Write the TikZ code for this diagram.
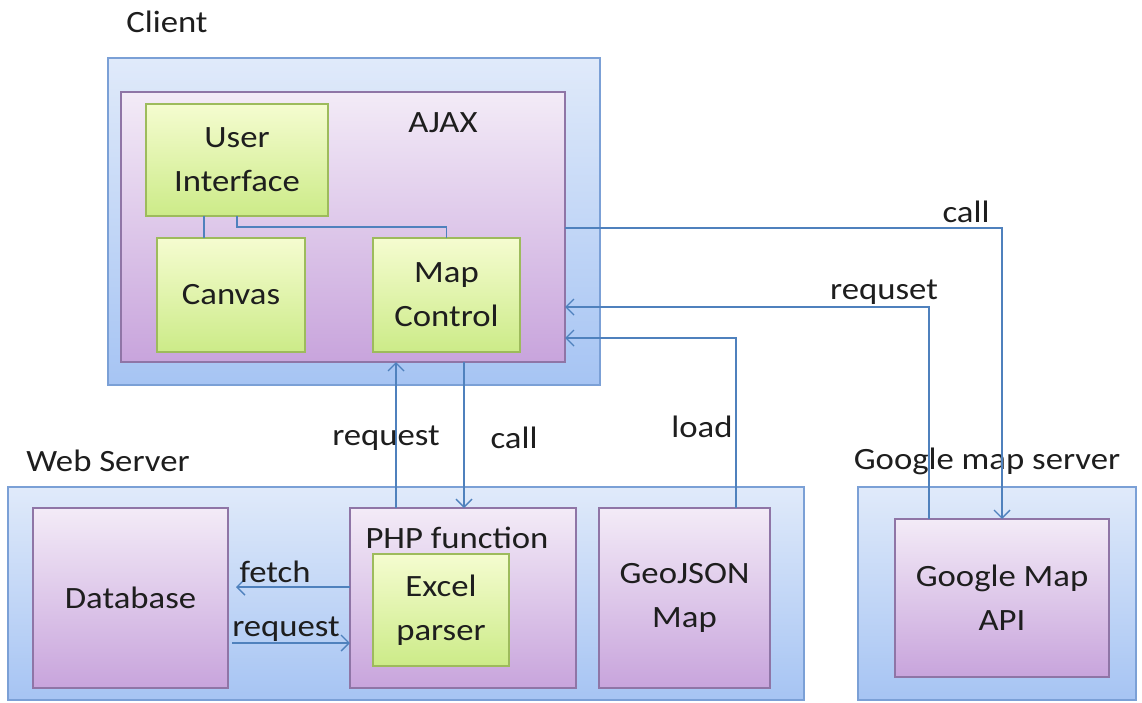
\documentclass[tikz,border=0pt]{standalone}
\usepackage{fontspec}
\setmainfont[FakeStretch=1.12]{Carlito}
\usetikzlibrary{arrows.meta,calc,fit}
\definecolor{blueTop}{HTML}{E0EAFA}
\definecolor{blueBot}{HTML}{A6C4F3}
\definecolor{blueLine}{HTML}{7BA0D6}
\definecolor{purTop}{HTML}{F3EBF7}
\definecolor{purBot}{HTML}{C8A4DC}
\definecolor{purLine}{HTML}{8F75A6}
\definecolor{grnTop}{HTML}{F5FCD0}
\definecolor{grnBot}{HTML}{CCEB88}
\definecolor{grnLine}{HTML}{9DBB5C}
\definecolor{conn}{HTML}{4F81BD}
\definecolor{txt}{HTML}{1E1E1E}
\begin{document}
\begin{tikzpicture}[x=1pt,y=-1pt,
  outerbox/.style={draw=blueLine, line width=1.3pt, top color=blueTop, bottom color=blueBot, inner sep=0pt, outer sep=0pt},
  purbox/.style={draw=purLine, line width=1.3pt, top color=purTop, bottom color=purBot, inner sep=0pt, outer sep=0pt,
     font=\fontsize{31}{44}\selectfont, text=txt, align=center},
  grnbox/.style={draw=grnLine, line width=1.3pt, top color=grnTop, bottom color=grnBot, inner sep=0pt, outer sep=0pt,
     font=\fontsize{31}{44}\selectfont, text=txt, align=center},
  lbl/.style={inner sep=0pt, font=\fontsize{31}{44}\selectfont, text=txt},
  conline/.style={draw=conn, line width=1.4pt},
  arr/.style={conline, -{Straight Barb[length=8pt,width=16pt,line width=1.4pt]}}
]
\useasboundingbox (0,0) rectangle (1142,702);
\fill[white] (0,0) rectangle (1142,702);

% containers
\node[outerbox, fit={(108,58) (600,385)}] (client) {};
\node[outerbox, fit={(8,487) (804,700)}] (web) {};
\node[outerbox, fit={(858,487) (1136,700)}] (gserver) {};

\node[lbl] (clientlbl) at (167,22) {Client};
\node[lbl] (weblbl) at (108,461) {Web Server};
\node[lbl] (gslbl) at (987,461) {Google map server};

% client content
\node[purbox, fit={(121,92) (565,362)}] (ajax) {};
\node[lbl] (ajaxlbl) at (443,123) {AJAX};
\node[grnbox, fit={(146,104) (328,216)}] (ui) {};
\node[lbl, align=center] at (ui.center) {User\\Interface};
\node[grnbox, fit={(157,238) (305,352)}] (canvas) {};
\node[lbl] at (canvas.center) {Canvas};
\node[grnbox, fit={(373,238) (520,352)}] (mapc) {};
\node[lbl, align=center] at (mapc.center) {Map\\Control};

% web server content
\node[purbox, fit={(33,508) (228,688)}] (db) {};
\node[lbl] at (db.center) {Database};
\node[purbox, fit={(350,508) (576,688)}] (php) {};
\node[lbl] (phplbl) at (457,538) {PHP function};
\node[grnbox, fit={(373,554) (509,666)}] (excel) {};
\node[lbl, align=center] at (excel.center) {Excel\\parser};
\node[purbox, fit={(599,508) (770,688)}] (geo) {};
\node[lbl, align=center] at (geo.center) {GeoJSON\\Map};

% google server content
\node[purbox, fit={(895,519) (1109,677)}] (gapi) {};
\node[lbl, align=center] at (gapi.center) {Google Map\\API};

% inner connectors
\draw[conline] ($(ui.south west)+(58,0)$) -- ($(canvas.north west)+(47,0)$);
\draw[conline] (ui.south) |- ($(mapc.north)+(0,-11)$) -- (mapc.north);

% client <-> google
\coordinate (callstart) at ($(ajax.north east)+(0,136)$);
\coordinate (callend) at ($(gapi.north west)+(107,0)$);
\draw[arr] (callstart) -| (callend);
\node[lbl] at (966,212) {call};

\coordinate (rqsstart) at ($(gapi.north west)+(34,0)$);
\coordinate (rqsend) at ($(ajax.north east)+(0,215)$);
\draw[arr] (rqsstart) |- (rqsend);
\node[lbl] at (884,292) {requset};

\coordinate (loadstart) at ($(geo.north west)+(137,0)$);
\coordinate (loadend) at ($(ajax.north east)+(0,246)$);
\draw[arr] (loadstart) |- (loadend);
\node[lbl] at (702,427) {load};

% client <-> php
\coordinate (rqstart) at ($(php.north west)+(46,0)$);
\draw[arr] (rqstart) -- (rqstart |- ajax.south);
\node[lbl] at (386,438) {request};

\coordinate (clstart) at ($(ajax.south west)+(343,0)$);
\draw[arr] (clstart) -- (clstart |- php.north);
\node[lbl] at (514,438) {call};

% php <-> database
\coordinate (fstart) at ($(php.north west)+(0,79)$);
\draw[arr, shorten >=8pt] (fstart) -- (fstart -| db.east);
\node[lbl] at (275,572) {fetch};

\coordinate (rstart) at ($(db.north east)+(4,135)$);
\draw[arr] (rstart) -- (rstart -| php.west);
\node[lbl] at (286,629) {request};
\end{tikzpicture}
\end{document}
